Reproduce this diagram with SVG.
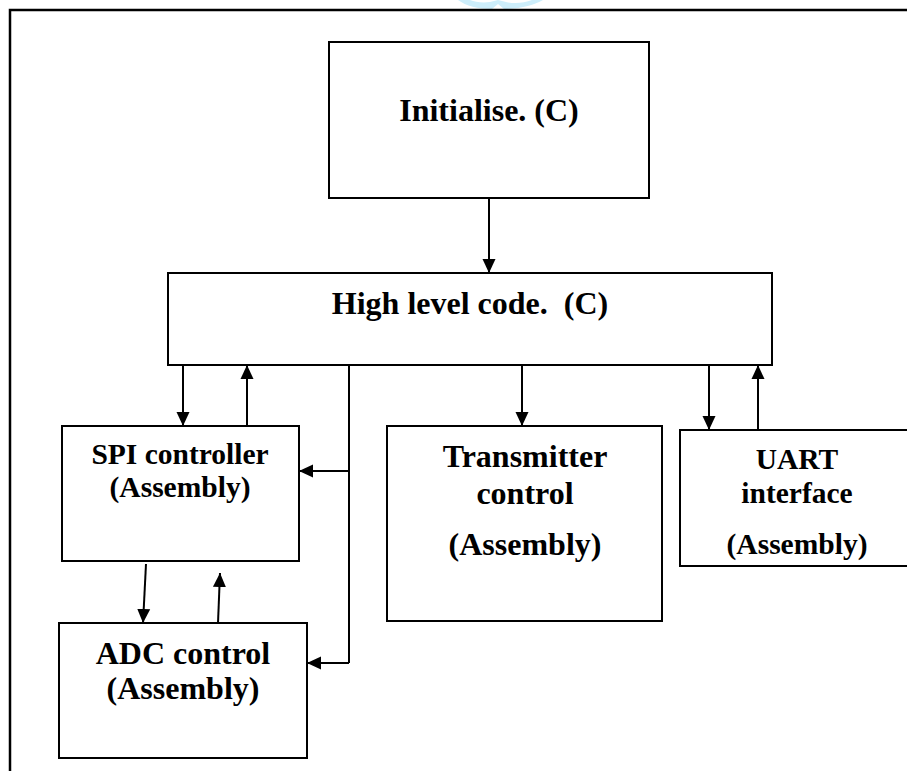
<svg xmlns="http://www.w3.org/2000/svg" width="907" height="771" viewBox="0 0 907 771">
<style>
.box{fill:#fff;stroke:#000;stroke-width:2}
.t{font-family:"Liberation Serif","Times New Roman",serif;font-weight:bold;fill:#000;text-anchor:middle}
.b{font-size:32px}
.s{font-size:29.5px}
.c{fill:none;stroke:#000;stroke-width:2}
</style>
<defs>
<marker id="ah" markerUnits="userSpaceOnUse" markerWidth="14" markerHeight="16" viewBox="0 0 14 16" refX="14" refY="8" orient="auto">
<path d="M0,1.5 L14,8 L0,14.5 Z" fill="#000"/>
</marker>
</defs>
<rect width="907" height="771" fill="#fff"/>
<path d="M458,0 C466,6 478,9 492,9 L498,4 L504,9 C520,9 534,5 543,0 L532,0 C524,3 515,4 506,2 L498,0 L490,2 C482,3 475,2 470,0 Z" fill="#cdeefb"/>
<g id="frame" fill="none" stroke="#000" stroke-width="2.5">
<path d="M10,771 L10,10 L907,10"/>
</g>
<g id="initialise">
<rect class="box" x="329" y="42" width="320" height="156"/>
<text class="t b" x="489" y="121">Initialise. (C)</text>
</g>
<g id="highlevel">
<rect class="box" x="168" y="273" width="604" height="92"/>
<text class="t b" x="470" y="314" xml:space="preserve">High level code.  (C)</text>
</g>
<g id="spi">
<rect class="box" x="62" y="426" width="237" height="135"/>
<text class="t s" x="180" y="464">SPI controller</text>
<text class="t s" x="180" y="497">(Assembly)</text>
</g>
<g id="adc">
<rect class="box" x="59" y="623" width="248" height="135"/>
<text class="t b" x="183" y="664">ADC control</text>
<text class="t b" x="183" y="699">(Assembly)</text>
</g>
<g id="transmitter">
<rect class="box" x="387" y="426" width="275" height="195"/>
<text class="t b" x="525" y="467">Transmitter</text>
<text class="t b" x="525" y="504">control</text>
<text class="t b" x="525" y="555">(Assembly)</text>
</g>
<g id="uart">
<rect class="box" x="680" y="430" width="240" height="136"/>
<text class="t s" x="797" y="469">UART</text>
<text class="t s" x="797" y="503">interface</text>
<text class="t s" x="797" y="554">(Assembly)</text>
</g>
<g id="connectors">
<line class="c" x1="489" y1="198" x2="489" y2="273" marker-end="url(#ah)"/>
<line class="c" x1="183" y1="365" x2="183" y2="426" marker-end="url(#ah)"/>
<line class="c" x1="247" y1="426" x2="247" y2="365" marker-end="url(#ah)"/>
<polyline class="c" points="349,365 349,663"/>
<line class="c" x1="349" y1="471" x2="299" y2="471" marker-end="url(#ah)"/>
<line class="c" x1="349" y1="663" x2="307" y2="663" marker-end="url(#ah)"/>
<line class="c" x1="146" y1="564" x2="143" y2="623" marker-end="url(#ah)"/>
<line class="c" x1="218" y1="623" x2="220" y2="573" marker-end="url(#ah)"/>
<line class="c" x1="522" y1="365" x2="522" y2="426" marker-end="url(#ah)"/>
<line class="c" x1="709" y1="365" x2="709" y2="430" marker-end="url(#ah)"/>
<line class="c" x1="758" y1="430" x2="758" y2="365" marker-end="url(#ah)"/>
</g>
</svg>
